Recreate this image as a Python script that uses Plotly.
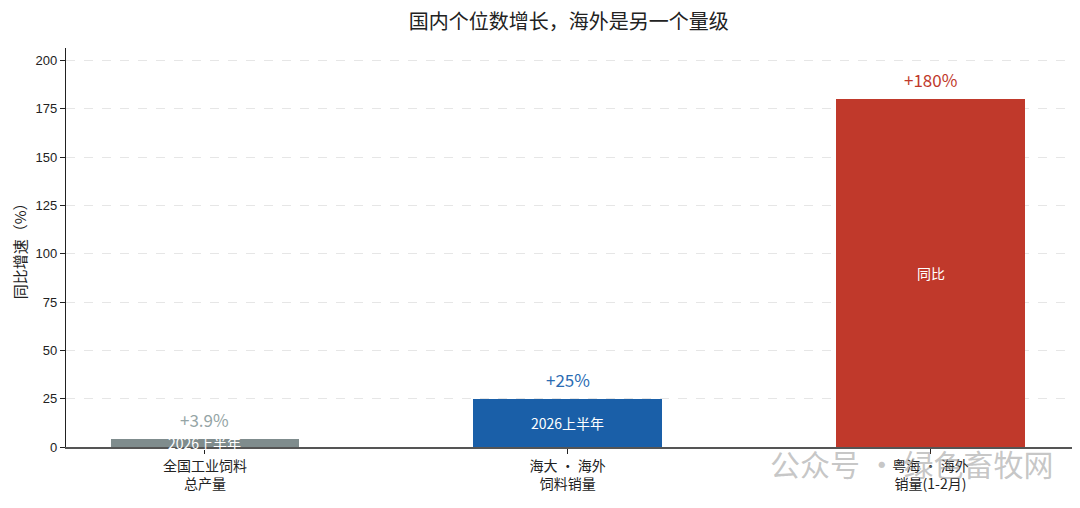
import plotly.graph_objects as go

# data
categories = ["全国工业饲料<br>总产量", "海大 · 海外<br>饲料销量", "粤海 · 海外<br>销量(1-2月)"]
growth = [3.9, 25, 180]
value_labels = ["+3.9%", "+25%", "+180%"]
inner_labels = ["2026上半年", "2026上半年", "同比"]
bar_colors = ["#7f8c8d", "#1a5fa8", "#c0392b"]
label_colors = ["#95a5a6", "#2b6cb3", "#c0392b"]
y_ticks = [0, 25, 50, 75, 100, 125, 150, 175, 200]

FONT = "Noto Sans CJK SC"
x_pos = list(range(len(categories)))

fig = go.Figure()
fig.add_trace(go.Bar(x=x_pos, y=growth, width=0.52,
                     marker=dict(color=bar_colors, line=dict(width=0)),
                     hoverinfo="skip", showlegend=False))

# value labels above the bars
for i, v in enumerate(growth):
    fig.add_annotation(x=x_pos[i], y=v, text=value_labels[i], showarrow=False,
                       yanchor="bottom", yshift=5,
                       font=dict(family=FONT, size=17, color=label_colors[i]))
    # white label in the middle of each bar
    fig.add_annotation(x=x_pos[i], y=v / 2, text=inner_labels[i], showarrow=False,
                       font=dict(family=FONT, size=14, color="white"))

# y axis title placed by hand
fig.add_annotation(xref="paper", yref="paper", x=-0.046, y=0.5, xanchor="center",
                   text="同比增速（%）", textangle=-90, showarrow=False,
                   font=dict(family=FONT, size=15, color="#222"))

# watermark
fig.add_annotation(xref="paper", yref="paper", x=0.698, y=-0.04,
                   xanchor="left", yanchor="middle",
                   text="公众号 · 绿色畜牧网", showarrow=False,
                   font=dict(family=FONT, size=30, color="rgba(150,150,150,0.55)"))

# page adds an 8px body margin, so the figure is 8px smaller each way
fig.update_layout(
    width=1072, height=500,
    margin=dict(l=58, r=8, t=40, b=61),
    plot_bgcolor="white", paper_bgcolor="white",
    title=dict(text="国内个位数增长，海外是另一个量级", x=0.523, xanchor="center",
               xref="container", yref="container", y=0.972, yanchor="middle",
               font=dict(family=FONT, size=20, color="#222")),
    font=dict(family=FONT, color="#222"),
    bargap=0,
)
fig.update_xaxes(range=[-0.383, 2.39], tickvals=x_pos, ticktext=categories,
                 automargin=False,
                 showline=True, linecolor="#555", linewidth=1.5,
                 ticks="outside", ticklen=5, tickcolor="#222",
                 tickfont=dict(family=FONT, size=14, color="#222"),
                 showgrid=False, zeroline=False)
fig.update_yaxes(range=[0, 206.5], tickvals=y_ticks, automargin=False,
                 showline=True, linecolor="#222", linewidth=1.2,
                 ticks="outside", ticklen=5, tickcolor="#222",
                 tickfont=dict(family="Liberation Sans", size=13, color="#222"),
                 showgrid=True, gridcolor="#e6e6e6", griddash="dash", gridwidth=1,
                 zeroline=False)

fig.write_html("out.html")
